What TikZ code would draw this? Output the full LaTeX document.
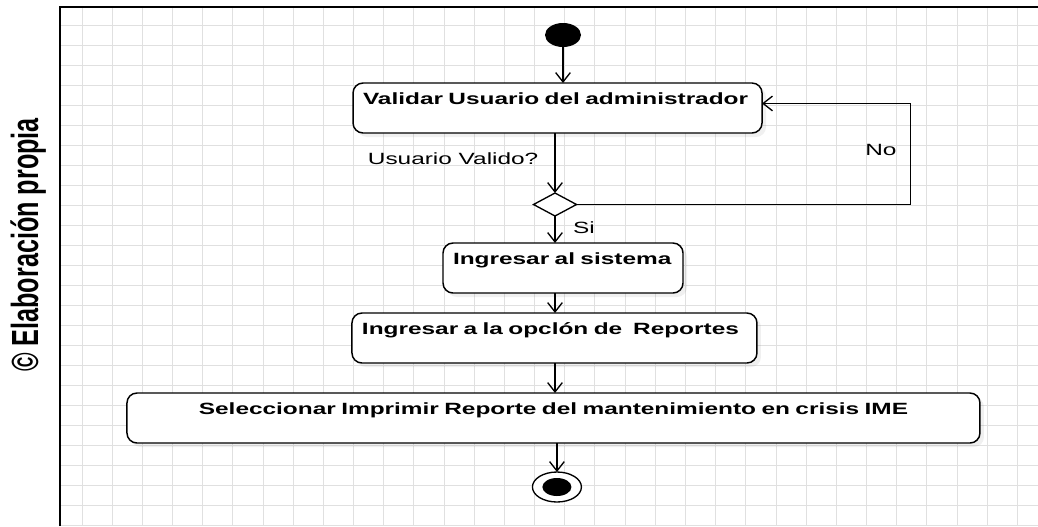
\documentclass[tikz,border=0pt]{standalone}
\usepackage{fontspec}
\setmainfont{Liberation Sans}
\newfontfamily\umlfont[FakeStretch=1.5]{Liberation Sans}
\usetikzlibrary{arrows.meta,positioning,shapes.geometric,shadows}

\begin{document}
\begin{tikzpicture}[
  x=0.75pt,y=-0.75pt,
  gridline/.style={draw=black!12,line width=.6pt},
  act/.style={draw,line width=1.1pt,rounded corners=7.5pt,fill=white,outer sep=0pt,
    drop shadow={shadow xshift=3pt,shadow yshift=-3pt,opacity=.12},
    inner xsep=7.5pt,inner ysep=0pt,text height=15.75pt,text depth=21.75pt,
    align=left,font=\umlfont\fontsize{12.2pt}{14pt}\selectfont\bfseries},
  initial/.style={ellipse,fill=black,inner sep=0pt,outer sep=0pt,minimum width=27pt,minimum height=18pt},
  final/.style={ellipse,draw,line width=1pt,fill=white,inner sep=0pt,outer sep=0pt,minimum width=36.75pt,minimum height=22.5pt,
    path picture={\fill[black] (path picture bounding box.center) ellipse (10.9pt and 6.75pt);}},
  choice/.style={diamond,draw,line width=1pt,fill=white,inner sep=0pt,outer sep=0pt,minimum width=32.25pt,minimum height=17.25pt},
  lbl/.style={inner sep=2pt,font=\umlfont\fontsize{12.2pt}{14pt}\selectfont},
  flow/.style={-{Straight Barb[length=7pt,width=11pt]},line width=1pt}
]
\useasboundingbox (0,0) rectangle (1038,526);

% grid and frame
\foreach \i in {0,...,31}
  \draw[gridline] ({82+30.17*\i},7) -- ({82+30.17*\i},526);
\foreach \j in {0,...,25}
  \draw[gridline] (60,{25+20*\j}) -- (1038,{25+20*\j});
\draw[line width=1.5pt] (60,526) -- (60,7) -- (1038,7);

\node[rotate=90,anchor=base,font=\bfseries\fontsize{18.9pt}{22pt}\selectfont] (credit) at (38,245)
  {\scalebox{1}[1.5]{\textcopyright\ Elaboración propia}};

% activity flow
\node[initial] (start) at (563,35) {};
\node[act,text width=291.75pt,below=27pt of start,xshift=-4.1pt] (valid) {Validar Usuario del administrador};
\node[choice,below=45pt of valid,xshift=-1.9pt] (check) {};
\node[act,text width=165pt,below=20.25pt of check,xshift=6pt] (enter) {Ingresar al sistema};
\node[act,text width=288.75pt,below=15pt of enter,xshift=-6.4pt] (reports) {Ingresar a la opclón de\ \ Reportes};
\node[act,text width=624.75pt,align=center,below=22.5pt of reports,xshift=-.75pt] (print) {Seleccionar Imprimir Reporte del mantenimiento en crisis IME};
\node[final,below=21.75pt of print,xshift=2.6pt] (stop) {};

\draw[flow] (start.south) -- (start.south |- valid.north);
\draw[flow] (valid.south -| check.north) -- node[lbl,left=10pt,pos=.43] {Usuario Valido?} (check.north);
\draw[flow] (check.east) -- ++(250.5pt,0) |- node[lbl,pos=.27,left=8pt] {No} ([yshift=3.4pt]valid.east);
\draw[flow] (check.south) -- node[lbl,right=11pt,pos=.44] {Si} (check.south |- enter.north);
\draw[flow] (enter.south -| check.south) -- (reports.north -| check.south);
\draw[flow] (reports.south -| check.south) -- (print.north -| check.south);
\draw[flow] (print.south -| stop.north) -- (stop.north);
\end{tikzpicture}
\end{document}
